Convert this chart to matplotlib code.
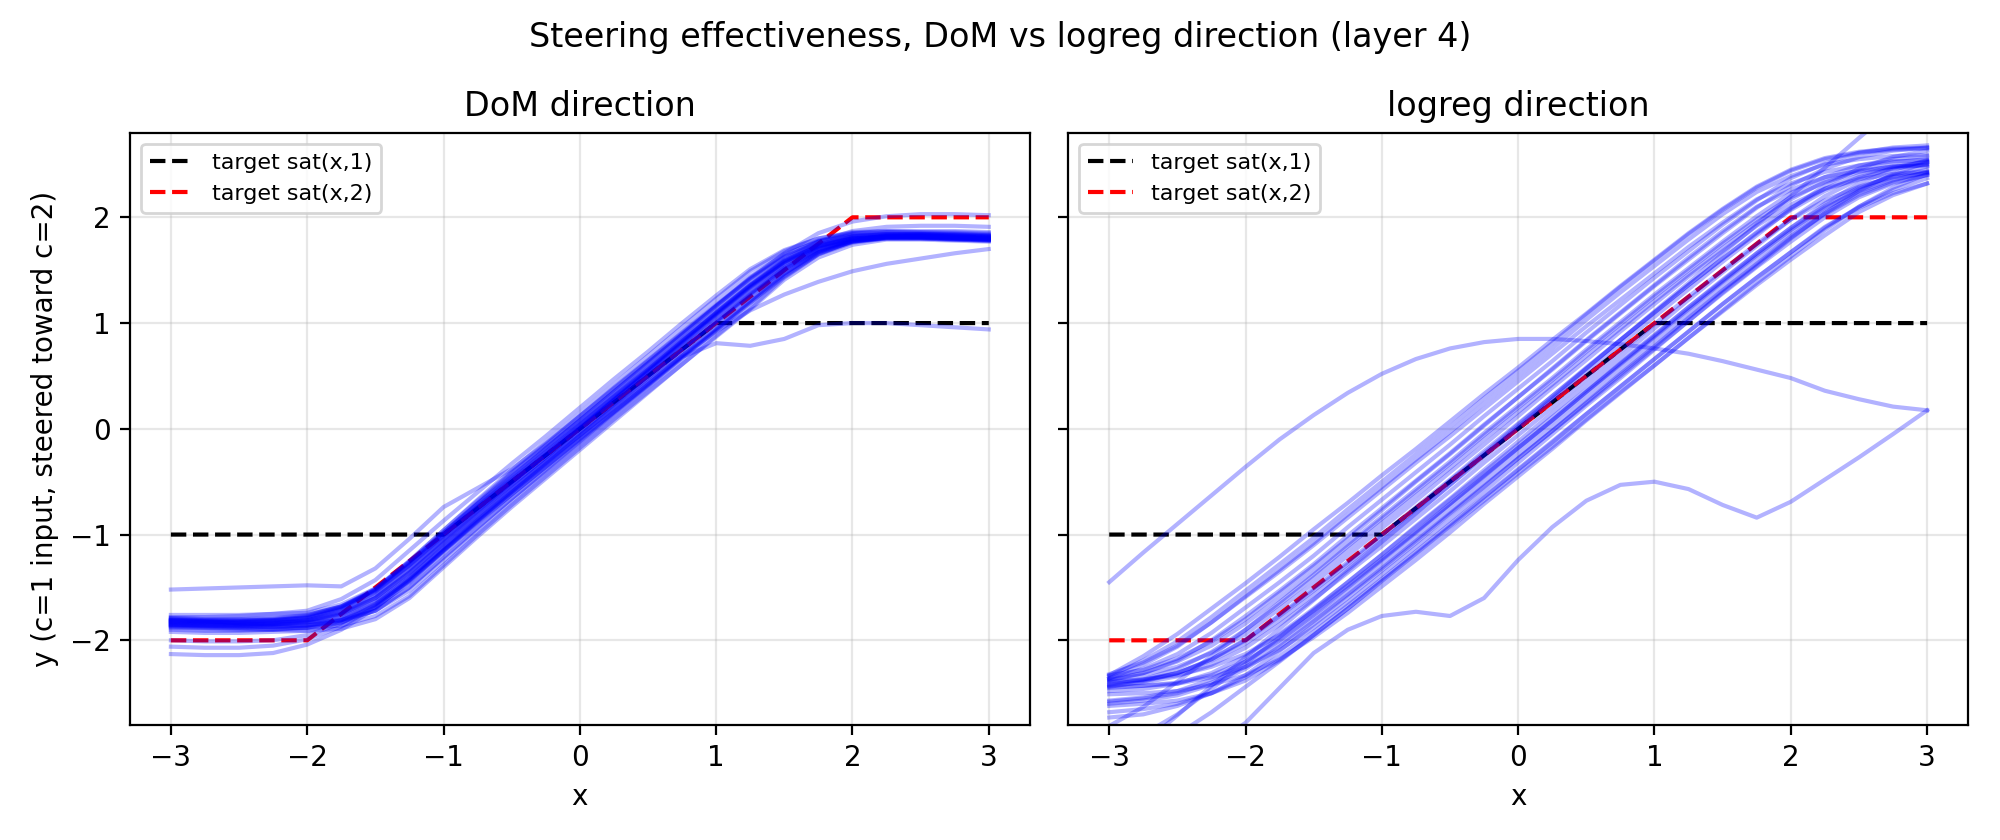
import matplotlib
matplotlib.use("Agg")
import matplotlib.pyplot as plt

# x positions where every run was sampled
x_grid = [-3.0, -2.75, -2.5, -2.25, -2.0, -1.75, -1.5, -1.25, -1.0, -0.75, -0.5, -0.25,
          0.0, 0.25, 0.5, 0.75, 1.0, 1.25, 1.5, 1.75, 2.0, 2.25, 2.5, 2.75, 3.0]

# targets
target_x1 = [-3, -1, 1, 3]
target_y1 = [-1, -1, 1, 1]
target_x2 = [-3, -2, 2, 3]
target_y2 = [-2, -2, 2, 2]

# ---- DoM direction runs ----
dom_b01 = [-1.83, -1.84, -1.85, -1.85, -1.83, -1.76, -1.62, -1.37, -1.08, -0.80, -0.53, -0.27, 0.00, 0.27, 0.53, 0.80, 1.07, 1.33, 1.56, 1.72, 1.80, 1.82, 1.82, 1.81, 1.80]
dom_b02 = [-1.80, -1.81, -1.81, -1.81, -1.79, -1.70, -1.52, -1.25, -0.96, -0.68, -0.41, -0.15, 0.12, 0.39, 0.65, 0.91, 1.17, 1.42, 1.63, 1.76, 1.82, 1.83, 1.83, 1.82, 1.81]
dom_b03 = [-1.86, -1.87, -1.88, -1.89, -1.88, -1.83, -1.72, -1.50, -1.21, -0.93, -0.66, -0.40, -0.13, 0.14, 0.40, 0.67, 0.93, 1.19, 1.44, 1.65, 1.76, 1.80, 1.80, 1.79, 1.78]
dom_b04 = [-1.78, -1.78, -1.77, -1.75, -1.72, -1.61, -1.43, -1.15, -0.87, -0.60, -0.33, -0.07, 0.20, 0.47, 0.73, 1.00, 1.26, 1.51, 1.69, 1.80, 1.85, 1.86, 1.85, 1.84, 1.83]
dom_b05 = [-1.90, -1.91, -1.91, -1.90, -1.87, -1.79, -1.64, -1.40, -1.12, -0.84, -0.57, -0.30, -0.03, 0.24, 0.50, 0.76, 1.02, 1.28, 1.52, 1.70, 1.79, 1.82, 1.83, 1.83, 1.82]
dom_b06 = [-1.84, -1.85, -1.86, -1.87, -1.88, -1.86, -1.77, -1.58, -1.29, -1.00, -0.72, -0.45, -0.18, 0.09, 0.35, 0.61, 0.87, 1.13, 1.41, 1.62, 1.74, 1.79, 1.79, 1.78, 1.77]
dom_b07 = [-1.76, -1.76, -1.76, -1.75, -1.74, -1.66, -1.51, -1.25, -0.96, -0.67, -0.39, -0.12, 0.15, 0.42, 0.69, 0.96, 1.23, 1.49, 1.68, 1.80, 1.86, 1.87, 1.86, 1.85, 1.84]
dom_b08 = [-1.82, -1.83, -1.83, -1.82, -1.79, -1.70, -1.54, -1.29, -1.01, -0.74, -0.48, -0.22, 0.04, 0.30, 0.56, 0.83, 1.09, 1.35, 1.58, 1.73, 1.81, 1.83, 1.83, 1.82, 1.81]
dom_b09 = [-1.88, -1.88, -1.88, -1.87, -1.86, -1.80, -1.66, -1.44, -1.16, -0.89, -0.62, -0.36, -0.10, 0.16, 0.42, 0.69, 0.95, 1.21, 1.47, 1.67, 1.78, 1.81, 1.81, 1.80, 1.79]
dom_b10 = [-1.81, -1.82, -1.84, -1.85, -1.84, -1.78, -1.65, -1.41, -1.11, -0.82, -0.54, -0.27, 0.00, 0.27, 0.54, 0.81, 1.08, 1.34, 1.57, 1.73, 1.80, 1.82, 1.81, 1.80, 1.79]
dom_b11 = [-1.85, -1.85, -1.85, -1.84, -1.81, -1.73, -1.57, -1.32, -1.04, -0.77, -0.51, -0.25, 0.01, 0.28, 0.55, 0.82, 1.10, 1.36, 1.59, 1.74, 1.82, 1.84, 1.84, 1.83, 1.82]
dom_b12 = [-1.92, -1.93, -1.93, -1.92, -1.91, -1.83, -1.69, -1.45, -1.16, -0.88, -0.61, -0.35, -0.09, 0.17, 0.43, 0.69, 0.95, 1.21, 1.47, 1.67, 1.77, 1.81, 1.82, 1.82, 1.81]
dom_b13 = [-1.79, -1.80, -1.80, -1.79, -1.76, -1.68, -1.52, -1.27, -0.99, -0.71, -0.44, -0.18, 0.08, 0.35, 0.62, 0.89, 1.16, 1.43, 1.64, 1.78, 1.85, 1.87, 1.87, 1.87, 1.86]
dom_b14 = [-1.84, -1.84, -1.84, -1.83, -1.80, -1.71, -1.55, -1.30, -1.02, -0.75, -0.49, -0.24, 0.02, 0.28, 0.54, 0.80, 1.06, 1.31, 1.54, 1.70, 1.78, 1.80, 1.80, 1.79, 1.78]
dom_b15 = [-1.87, -1.88, -1.89, -1.90, -1.91, -1.89, -1.80, -1.60, -1.31, -1.02, -0.74, -0.47, -0.20, 0.07, 0.34, 0.61, 0.88, 1.14, 1.43, 1.65, 1.78, 1.83, 1.84, 1.84, 1.83]
dom_b16 = [-1.80, -1.81, -1.81, -1.80, -1.77, -1.68, -1.51, -1.26, -0.98, -0.71, -0.45, -0.19, 0.07, 0.33, 0.59, 0.85, 1.11, 1.36, 1.58, 1.73, 1.80, 1.82, 1.82, 1.81, 1.80]
dom_b17 = [-1.83, -1.83, -1.83, -1.82, -1.83, -1.81, -1.72, -1.53, -1.25, -0.97, -0.69, -0.42, -0.15, 0.12, 0.39, 0.66, 0.93, 1.19, 1.46, 1.66, 1.77, 1.81, 1.81, 1.80, 1.79]
dom_b18 = [-1.81, -1.82, -1.82, -1.81, -1.78, -1.69, -1.53, -1.28, -1.00, -0.73, -0.47, -0.21, 0.05, 0.31, 0.57, 0.84, 1.10, 1.36, 1.59, 1.74, 1.82, 1.84, 1.84, 1.83, 1.82]
dom_b19 = [-1.85, -1.86, -1.87, -1.87, -1.86, -1.81, -1.69, -1.45, -1.15, -0.87, -0.60, -0.34, -0.07, 0.20, 0.46, 0.73, 1.00, 1.26, 1.51, 1.69, 1.78, 1.81, 1.81, 1.80, 1.79]
dom_b20 = [-1.81, -1.82, -1.82, -1.81, -1.78, -1.69, -1.52, -1.26, -0.98, -0.70, -0.42, -0.16, 0.10, 0.37, 0.64, 0.91, 1.18, 1.44, 1.65, 1.77, 1.83, 1.84, 1.84, 1.83, 1.82]
dom_b21 = [-1.86, -1.86, -1.86, -1.86, -1.86, -1.82, -1.72, -1.50, -1.22, -0.94, -0.66, -0.39, -0.12, 0.15, 0.41, 0.68, 0.94, 1.20, 1.45, 1.66, 1.77, 1.81, 1.81, 1.80, 1.79]
dom_b22 = [-1.82, -1.82, -1.83, -1.83, -1.81, -1.74, -1.60, -1.36, -1.07, -0.79, -0.53, -0.27, 0.00, 0.27, 0.54, 0.81, 1.07, 1.33, 1.56, 1.72, 1.80, 1.82, 1.82, 1.81, 1.80]
dom_b23 = [-1.85, -1.86, -1.86, -1.85, -1.82, -1.74, -1.58, -1.33, -1.05, -0.77, -0.50, -0.24, 0.03, 0.30, 0.56, 0.83, 1.09, 1.35, 1.58, 1.73, 1.81, 1.83, 1.83, 1.82, 1.81]
dom_high_left = [-1.52, -1.51, -1.50, -1.49, -1.48, -1.49, -1.32, -1.04, -0.74, -0.56, -0.38, -0.14, 0.12, 0.38, 0.64, 0.90, 1.16, 1.41, 1.62, 1.77, 1.84, 1.86, 1.86, 1.86, 1.85]
dom_dip_right = [-1.88, -1.89, -1.90, -1.90, -1.88, -1.81, -1.67, -1.43, -1.15, -0.88, -0.62, -0.36, -0.10, 0.16, 0.42, 0.68, 0.81, 0.785, 0.85, 0.98, 1.00, 1.00, 0.98, 0.96, 0.94]
dom_slow_right = [-1.86, -1.87, -1.87, -1.86, -1.83, -1.75, -1.60, -1.36, -1.09, -0.82, -0.56, -0.31, -0.06, 0.19, 0.44, 0.69, 0.92, 1.12, 1.27, 1.39, 1.49, 1.56, 1.61, 1.66, 1.70]
dom_top_a = [-1.79, -1.80, -1.80, -1.79, -1.76, -1.68, -1.53, -1.29, -1.01, -0.73, -0.46, -0.19, 0.08, 0.35, 0.62, 0.89, 1.16, 1.42, 1.66, 1.85, 1.96, 2.01, 2.03, 2.03, 2.02]
dom_top_b = [-1.82, -1.83, -1.84, -1.84, -1.82, -1.75, -1.60, -1.35, -1.06, -0.78, -0.51, -0.24, 0.03, 0.30, 0.57, 0.84, 1.11, 1.37, 1.60, 1.77, 1.87, 1.91, 1.92, 1.92, 1.91]
dom_low_a = [-2.13, -2.14, -2.14, -2.12, -2.04, -1.90, -1.70, -1.43, -1.15, -0.87, -0.60, -0.33, -0.06, 0.21, 0.48, 0.74, 1.00, 1.26, 1.50, 1.68, 1.77, 1.80, 1.80, 1.79, 1.78]
dom_low_b = [-2.06, -2.07, -2.07, -2.05, -1.99, -1.87, -1.68, -1.42, -1.14, -0.86, -0.59, -0.32, -0.05, 0.22, 0.48, 0.75, 1.01, 1.27, 1.51, 1.69, 1.78, 1.81, 1.81, 1.80, 1.79]
dom_low_c = [-2.00, -2.01, -2.01, -2.00, -1.95, -1.84, -1.66, -1.41, -1.13, -0.85, -0.58, -0.31, -0.04, 0.23, 0.50, 0.76, 1.02, 1.28, 1.52, 1.70, 1.79, 1.82, 1.82, 1.81, 1.80]

dom_runs = [dom_b01, dom_b02, dom_b03, dom_b04, dom_b05, dom_b06, dom_b07, dom_b08, dom_b09,
            dom_b10, dom_b11, dom_b12, dom_b13, dom_b14, dom_b15, dom_b16, dom_b17,
            dom_b18, dom_b19, dom_b20, dom_b21, dom_b22, dom_b23,
            dom_high_left, dom_dip_right, dom_slow_right, dom_top_a, dom_top_b,
            dom_low_a, dom_low_b, dom_low_c]

# ---- logreg direction runs ----
lr_r01 = [-2.33, -2.15, -1.94, -1.70, -1.46, -1.21, -0.95, -0.70, -0.44, -0.19, 0.07, 0.33, 0.58, 0.84, 1.09, 1.35, 1.60, 1.85, 2.08, 2.29, 2.45, 2.56, 2.62, 2.65, 2.66]
lr_r02 = [-2.36, -2.23, -2.06, -1.83, -1.58, -1.33, -1.08, -0.81, -0.55, -0.29, -0.03, 0.24, 0.50, 0.76, 1.03, 1.29, 1.54, 1.79, 2.03, 2.24, 2.39, 2.50, 2.55, 2.58, 2.59]
lr_r03 = [-2.36, -2.27, -2.13, -1.93, -1.69, -1.45, -1.20, -0.93, -0.67, -0.41, -0.15, 0.12, 0.38, 0.64, 0.91, 1.17, 1.43, 1.68, 1.93, 2.16, 2.37, 2.51, 2.61, 2.66, 2.68]
lr_r04 = [-2.33, -2.28, -2.17, -2.01, -1.80, -1.55, -1.30, -1.04, -0.77, -0.50, -0.24, 0.03, 0.30, 0.57, 0.84, 1.10, 1.36, 1.62, 1.87, 2.10, 2.26, 2.38, 2.44, 2.48, 2.49]
lr_r05 = [-2.37, -2.31, -2.20, -2.05, -1.84, -1.60, -1.35, -1.09, -0.83, -0.57, -0.31, -0.04, 0.22, 0.48, 0.75, 1.01, 1.27, 1.52, 1.77, 2.01, 2.23, 2.38, 2.49, 2.55, 2.58]
lr_r06 = [-2.37, -2.33, -2.25, -2.12, -1.94, -1.70, -1.46, -1.20, -0.94, -0.68, -0.41, -0.15, 0.12, 0.39, 0.65, 0.92, 1.18, 1.44, 1.68, 1.92, 2.12, 2.27, 2.36, 2.41, 2.43]
lr_r07 = [-2.44, -2.39, -2.31, -2.18, -1.99, -1.76, -1.51, -1.26, -1.00, -0.74, -0.48, -0.21, 0.05, 0.31, 0.58, 0.84, 1.10, 1.36, 1.61, 1.86, 2.09, 2.27, 2.40, 2.48, 2.52]
lr_r08 = [-2.40, -2.37, -2.31, -2.19, -2.03, -1.81, -1.57, -1.32, -1.06, -0.80, -0.53, -0.27, 0.00, 0.27, 0.53, 0.80, 1.06, 1.32, 1.58, 1.83, 2.08, 2.30, 2.46, 2.57, 2.63]
lr_r09 = [-2.43, -2.40, -2.34, -2.23, -2.07, -1.85, -1.61, -1.36, -1.11, -0.85, -0.59, -0.32, -0.06, 0.20, 0.47, 0.73, 0.99, 1.25, 1.50, 1.75, 1.98, 2.16, 2.29, 2.38, 2.42]
lr_r10 = [-2.48, -2.46, -2.41, -2.31, -2.15, -1.94, -1.70, -1.45, -1.19, -0.92, -0.66, -0.39, -0.12, 0.15, 0.42, 0.68, 0.95, 1.22, 1.48, 1.73, 1.98, 2.20, 2.36, 2.47, 2.53]
lr_r11 = [-2.39, -2.37, -2.33, -2.25, -2.13, -1.95, -1.72, -1.48, -1.23, -0.97, -0.71, -0.44, -0.18, 0.08, 0.35, 0.61, 0.87, 1.13, 1.39, 1.64, 1.88, 2.09, 2.25, 2.36, 2.42]
lr_r12 = [-2.58, -2.55, -2.50, -2.40, -2.25, -2.04, -1.80, -1.56, -1.30, -1.04, -0.78, -0.51, -0.25, 0.01, 0.28, 0.54, 0.80, 1.06, 1.32, 1.57, 1.82, 2.04, 2.23, 2.35, 2.43]
lr_r13 = [-2.44, -2.43, -2.41, -2.35, -2.25, -2.09, -1.88, -1.64, -1.38, -1.12, -0.86, -0.59, -0.32, -0.05, 0.22, 0.48, 0.75, 1.02, 1.29, 1.54, 1.80, 2.04, 2.25, 2.41, 2.52]
lr_r14 = [-2.68, -2.65, -2.60, -2.50, -2.35, -2.15, -1.92, -1.67, -1.42, -1.16, -0.90, -0.64, -0.38, -0.12, 0.14, 0.40, 0.66, 0.92, 1.18, 1.43, 1.67, 1.91, 2.09, 2.23, 2.32]
lr_r15 = [-2.51, -2.50, -2.48, -2.42, -2.33, -2.18, -1.97, -1.74, -1.49, -1.24, -0.98, -0.71, -0.45, -0.19, 0.08, 0.34, 0.60, 0.86, 1.12, 1.38, 1.63, 1.88, 2.10, 2.28, 2.41]
lr_r16 = [-2.81, -2.63, -2.39, -2.15, -1.90, -1.64, -1.38, -1.11, -0.85, -0.59, -0.33, -0.06, 0.20, 0.46, 0.73, 0.99, 1.25, 1.50, 1.75, 1.98, 2.19, 2.33, 2.43, 2.48, 2.50]
lr_r17 = [-3.02, -2.89, -2.70, -2.46, -2.22, -1.97, -1.71, -1.45, -1.19, -0.93, -0.67, -0.41, -0.15, 0.11, 0.37, 0.63, 0.89, 1.15, 1.40, 1.66, 1.90, 2.13, 2.32, 2.45, 2.54]
lr_r18 = [-3.17, -3.06, -2.89, -2.68, -2.44, -2.20, -1.95, -1.70, -1.44, -1.19, -0.93, -0.68, -0.42, -0.17, 0.09, 0.35, 0.60, 0.86, 1.11, 1.36, 1.60, 1.83, 2.05, 2.21, 2.32]
lr_r19 = [-2.73, -2.70, -2.62, -2.50, -2.33, -2.10, -1.85, -1.60, -1.34, -1.08, -0.81, -0.55, -0.28, -0.02, 0.25, 0.52, 0.78, 1.05, 1.31, 1.56, 1.81, 2.03, 2.21, 2.33, 2.40]
lr_r20 = [-2.32, -2.21, -2.05, -1.83, -1.59, -1.35, -1.10, -0.84, -0.58, -0.32, -0.07, 0.19, 0.45, 0.71, 0.97, 1.22, 1.47, 1.72, 1.95, 2.17, 2.32, 2.43, 2.49, 2.53, 2.54]
lr_r21 = [-2.34, -2.19, -2.01, -1.78, -1.53, -1.28, -1.03, -0.76, -0.50, -0.24, 0.02, 0.29, 0.55, 0.81, 1.08, 1.34, 1.59, 1.84, 2.07, 2.28, 2.44, 2.55, 2.61, 2.64, 2.65]
lr_r22 = [-2.42, -2.37, -2.27, -2.11, -1.90, -1.66, -1.41, -1.15, -0.89, -0.63, -0.37, -0.10, 0.16, 0.42, 0.69, 0.95, 1.21, 1.46, 1.71, 1.95, 2.17, 2.34, 2.45, 2.52, 2.55]
lr_r23 = [-2.41, -2.38, -2.31, -2.18, -2.00, -1.77, -1.53, -1.28, -1.02, -0.76, -0.49, -0.23, 0.04, 0.31, 0.57, 0.84, 1.10, 1.36, 1.61, 1.85, 2.07, 2.25, 2.38, 2.46, 2.50]
lr_r24 = [-2.45, -2.43, -2.40, -2.33, -2.20, -2.00, -1.76, -1.51, -1.25, -0.99, -0.73, -0.46, -0.20, 0.06, 0.33, 0.59, 0.85, 1.11, 1.37, 1.62, 1.86, 2.08, 2.27, 2.40, 2.48]
lr_r25 = [-2.62, -2.60, -2.57, -2.50, -2.38, -2.19, -1.95, -1.70, -1.44, -1.18, -0.92, -0.65, -0.39, -0.13, 0.14, 0.40, 0.66, 0.92, 1.18, 1.43, 1.67, 1.90, 2.10, 2.26, 2.37]
lr_r26 = [-2.38, -2.31, -2.19, -2.00, -1.77, -1.53, -1.28, -1.01, -0.75, -0.49, -0.23, 0.04, 0.30, 0.56, 0.83, 1.09, 1.35, 1.60, 1.85, 2.09, 2.30, 2.46, 2.57, 2.63, 2.66]
lr_r27 = [-2.57, -2.54, -2.48, -2.37, -2.20, -1.99, -1.75, -1.50, -1.24, -0.98, -0.71, -0.45, -0.18, 0.08, 0.35, 0.62, 0.88, 1.15, 1.41, 1.66, 1.90, 2.11, 2.28, 2.39, 2.45]
lr_r28 = [-2.60, -2.57, -2.52, -2.42, -2.27, -2.06, -1.82, -1.57, -1.32, -1.06, -0.80, -0.54, -0.28, -0.02, 0.24, 0.50, 0.76, 1.02, 1.28, 1.53, 1.77, 2.00, 2.19, 2.32, 2.40]
lr_straight = [-3.25, -2.98, -2.71, -2.43, -2.16, -1.89, -1.62, -1.34, -1.07, -0.80, -0.53, -0.25, 0.02, 0.29, 0.57, 0.84, 1.11, 1.38, 1.66, 1.93, 2.20, 2.47, 2.75, 3.02, 3.29]
lr_hump = [-1.45, -1.17, -0.90, -0.63, -0.36, -0.10, 0.13, 0.34, 0.52, 0.66, 0.76, 0.82, 0.85, 0.85, 0.83, 0.80, 0.76, 0.71, 0.64, 0.56, 0.48, 0.36, 0.28, 0.21, 0.175]
lr_wiggle = [-3.75, -3.50, -3.25, -3.00, -2.78, -2.45, -2.12, -1.90, -1.77, -1.73, -1.77, -1.60, -1.24, -0.93, -0.68, -0.53, -0.50, -0.57, -0.72, -0.84, -0.69, -0.48, -0.27, -0.05, 0.175]

logreg_runs = [lr_r01, lr_r02, lr_r03, lr_r04, lr_r05, lr_r06, lr_r07, lr_r08, lr_r09, lr_r10,
               lr_r11, lr_r12, lr_r13, lr_r14, lr_r15, lr_r16, lr_r17, lr_r18, lr_r19, lr_r20,
               lr_r21, lr_r22, lr_r23, lr_r24, lr_r25, lr_r26, lr_r27, lr_r28,
               lr_straight, lr_hump, lr_wiggle]

titles = ["DoM direction", "logreg direction"]

fig, axes = plt.subplots(1, 2, figsize=(10, 4.2), sharey=True)

for ax, runs, title in zip(axes, [dom_runs, logreg_runs], titles):
    ax.plot(target_x1, target_y1, "k--", lw=1.5, label="target sat(x,1)")
    ax.plot(target_x2, target_y2, "r--", lw=1.5, label="target sat(x,2)")
    for ys in runs:
        ax.plot(x_grid, ys, color="blue", alpha=0.3, lw=1.5)
    ax.set_title(title)
    ax.set_xlabel("x")
    ax.grid(alpha=0.3)
    ax.legend(loc="upper left", fontsize=8)

axes[0].set_ylabel("y (c=1 input, steered toward c=2)")
axes[0].set_ylim(-2.8, 2.8)

fig.suptitle("Steering effectiveness, DoM vs logreg direction (layer 4)", y=0.975)
fig.subplots_adjust(left=0.065, right=0.984, bottom=0.137, top=0.842, wspace=0.043)
fig.savefig("out.png", dpi=200)
